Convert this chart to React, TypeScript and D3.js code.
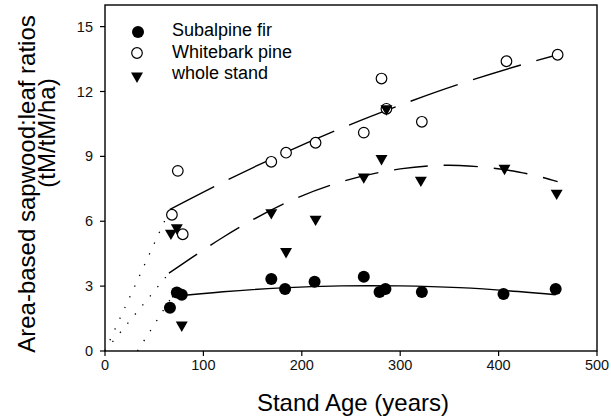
import React from "react";
import * as d3 from "d3";

// ---- data ----
const firAge = [66, 73, 78, 169, 183, 213, 263, 279, 285, 322, 405, 458];
const firVal = [2.0, 2.7, 2.6, 3.33, 2.87, 3.2, 3.43, 2.73, 2.87, 2.73, 2.64, 2.87];

const pineAge = [68, 74, 79, 169, 184, 214, 263, 281, 286, 322, 408, 460];
const pineVal = [6.3, 8.33, 5.4, 8.75, 9.17, 9.63, 10.1, 12.6, 11.2, 10.6, 13.4, 13.7];

const wholeAge = [67, 73, 78, 169, 184, 214, 263, 281, 286, 321, 406, 459];
const wholeVal = [5.45, 5.7, 1.2, 6.4, 4.6, 6.1, 8.05, 8.9, 11.2, 7.9, 8.45, 7.3];

// fitted curves, points
const fitFirAge = [68, 120, 180, 240, 300, 360, 420, 458];
const fitFirVal = [2.51, 2.74, 2.92, 3.01, 3.01, 2.93, 2.75, 2.6];
const fitPineAge = [66, 120, 180, 240, 300, 360, 420, 460];
const fitPineVal = [6.55, 7.81, 9.11, 10.3, 11.37, 12.34, 13.19, 13.7];
const fitWholeAge = [65, 120, 180, 240, 300, 360, 420, 460];
const fitWholeVal = [3.6, 5.26, 6.77, 7.82, 8.42, 8.58, 8.28, 7.83];

// dotted extrapolations toward the origin
const dotFirAge = [33, 68];
const dotFirVal = [0, 2.51];
const dotPineAge = [0, 66];
const dotPineVal = [0, 6.55];
const dotWholeAge = [0, 65];
const dotWholeVal = [0, 3.6];

const xTicks = [0, 100, 200, 300, 400, 500];
const yTicks = [0, 3, 6, 9, 12, 15];
const legendLabels = ["Subalpine fir", "Whitebark pine", "whole stand"];

const W = 611;
const H = 420;
const left = 105;
const right = 597;
const top = 5;
const bottom = 351;
const FONT = "'Liberation Sans', Arial, Helvetica, sans-serif";

export default function App() {
  const x = d3.scaleLinear().domain([0, 500]).range([left, right]);
  const y = d3.scaleLinear().domain([0, 16]).range([bottom, top]);

  const line = (ages: number[], vals: number[]) =>
    d3
      .line<number>()
      .x((_, i) => x(ages[i]))
      .y((v) => y(v))
      .curve(d3.curveNatural)(vals) || "";

  const tri = d3.symbol().type(d3.symbolTriangle).size(62)() || "";

  return (
    <svg
      width={W}
      height={H}
      style={{ position: "absolute", left: 0, top: 0, background: "#fff" }}
      fontFamily={FONT}
    >
      <rect x={0} y={0} width={W} height={H} fill="#fff" />
      {/* frame */}
      <rect
        x={left}
        y={top}
        width={right - left}
        height={bottom - top}
        fill="none"
        stroke="#000"
        strokeWidth={1.4}
      />
      {/* y ticks */}
      {yTicks.map((t) => (
        <g key={"y" + t}>
          <line x1={left - 5} x2={left} y1={y(t)} y2={y(t)} stroke="#000" strokeWidth={1.2} />
          <text
            x={left - 12}
            y={y(t)}
            textAnchor="end"
            dominantBaseline="central"
            fontSize={14.5}
            fill="#111"
          >
            {t}
          </text>
        </g>
      ))}
      {/* x ticks */}
      {xTicks.map((t) => (
        <g key={"x" + t}>
          <line x1={x(t)} x2={x(t)} y1={bottom} y2={bottom + 5} stroke="#000" strokeWidth={1.2} />
          <text x={x(t)} y={bottom + 19} textAnchor="middle" fontSize={14.5} fill="#111">
            {t}
          </text>
        </g>
      ))}

      {/* dotted extrapolations */}
      {[
        [dotFirAge, dotFirVal],
        [dotPineAge, dotPineVal],
        [dotWholeAge, dotWholeVal],
      ].map(([a, v], i) => (
        <path
          key={"dot" + i}
          d={line(a, v)}
          fill="none"
          stroke="#000"
          strokeWidth={1.3}
          strokeDasharray="1.3,10.5"
        />
      ))}

      {/* fitted curves */}
      <path d={line(fitFirAge, fitFirVal)} fill="none" stroke="#000" strokeWidth={1.4} />
      <path
        d={line(fitPineAge, fitPineVal)}
        fill="none"
        stroke="#000"
        strokeWidth={1.4}
        strokeDasharray="50,16"
      />
      <path
        d={line(fitWholeAge, fitWholeVal)}
        fill="none"
        stroke="#000"
        strokeWidth={1.4}
        strokeDasharray="34,16"
      />

      {/* data points */}
      {firAge.map((a, i) => (
        <circle key={"f" + i} cx={x(a)} cy={y(firVal[i])} r={6} fill="#000" />
      ))}
      {pineAge.map((a, i) => (
        <circle
          key={"p" + i}
          cx={x(a)}
          cy={y(pineVal[i])}
          r={5.3}
          fill="#fff"
          stroke="#000"
          strokeWidth={1.2}
        />
      ))}
      {wholeAge.map((a, i) => (
        <path
          key={"w" + i}
          d={tri}
          transform={`translate(${x(a)},${y(wholeVal[i])}) rotate(180)`}
          fill="#000"
        />
      ))}

      {/* legend */}
      <circle cx={138} cy={32} r={6} fill="#000" />
      <circle cx={137} cy={53} r={5.3} fill="#fff" stroke="#000" strokeWidth={1.2} />
      <path d={tri} transform="translate(137,76) rotate(180)" fill="#000" />
      {legendLabels.map((l, i) => (
        <text key={l} x={172} y={36 + i * 21.5} fontSize={18} fill="#000">
          {l}
        </text>
      ))}

      {/* axis titles */}
      <text x={353} y={411} textAnchor="middle" fontSize={24} fill="#000">
        Stand Age (years)
      </text>
      <text transform="translate(35,184) rotate(-90)" textAnchor="middle" fontSize={24} fill="#000">
        Area-based sapwood:leaf ratios
      </text>
      <text transform="translate(55,133) rotate(-90)" textAnchor="middle" fontSize={24} fill="#000">
        (tM/tM/ha)
      </text>
    </svg>
  );
}
